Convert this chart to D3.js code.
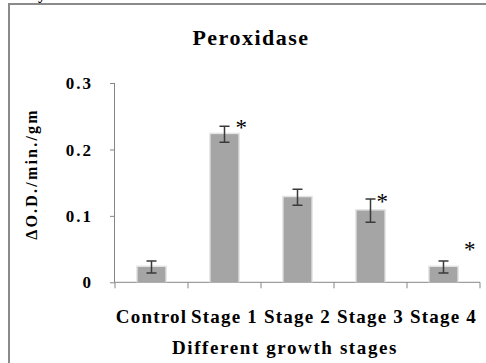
<!DOCTYPE html>
<html>
<head>
<meta charset="utf-8">
<script src="https://cdn.jsdelivr.net/npm/d3@7"></script>
<style>
  body { margin: 0; background: #fff; }
  svg { display: block; }
  text { font-family: "Liberation Serif", Tinos, "DejaVu Serif", serif; font-weight: bold; fill: #000; }
</style>
</head>
<body>
<svg id="chart" width="486" height="363"></svg>
<script>
// data
var categories = ["Control", "Stage 1", "Stage 2", "Stage 3", "Stage 4"];
var values = [0.023, 0.223, 0.128, 0.108, 0.023];
var errors = [0.009, 0.012, 0.012, 0.0175, 0.009];
var yTicks = [0, 0.1, 0.2, 0.3];
var yTickLabels = ["0", "0.1", "0.2", "0.3"];
// significance marks: level on the value axis and shift within the band (fraction of step)
var starLevel = [null, 0.240, null, 0.128, 0.056];
var starShift = [0, 0.23, 0, 0.16, 0.36];

var svg = d3.select("#chart");

var W = 486, H = 363,
    plotL = 115, plotR = 480, plotT = 83, plotB = 282.3;

var x = d3.scaleBand().domain(categories).range([plotL, plotR]).padding(0);
var y = d3.scaleLinear().domain([0, 0.3]).range([plotB, plotT]);
var barW = x.step() * 0.38;

// frame
svg.append("path")
  .attr("d", "M9," + H + "V4H" + W)
  .attr("fill", "none")
  .attr("stroke", "#8a8a8a")
  .attr("stroke-width", 2);

// clipped text from page above
svg.append("text")
  .attr("x", 38).attr("y", -1)
  .style("font-size", "16px")
  .text("y");

// title
svg.append("text")
  .attr("x", 251).attr("y", 45)
  .attr("text-anchor", "middle")
  .style("font-size", "22px")
  .style("letter-spacing", "1.5px")
  .text("Peroxidase");

// y axis
var yAxis = svg.append("g")
  .attr("transform", "translate(" + plotL + ",0)")
  .call(d3.axisLeft(y).tickValues(yTicks).tickSize(5).tickPadding(17)
    .tickFormat(function(d, i) { return yTickLabels[i]; }));
yAxis.select(".domain").attr("stroke", "#868686").attr("d", "M-0.5," + plotT + "V" + plotB);
yAxis.selectAll(".tick line").attr("stroke", "#868686");
yAxis.selectAll(".tick text")
  .style("font-size", "17px")
  .style("letter-spacing", "2px")
  .style("font-family", null)
  .attr("font-family", null)
  .attr("font-size", null)
  .attr("dy", "0.33em")
  .attr("fill", "#000");

// x axis line with ticks at band boundaries
var xAxis = svg.append("g");
xAxis.append("line")
  .attr("x1", plotL).attr("x2", plotR)
  .attr("y1", plotB).attr("y2", plotB)
  .attr("stroke", "#868686");
var bounds = categories.map(function(c) { return x(c); }).concat([plotR]);
xAxis.selectAll(".xt").data(bounds).join("line")
  .attr("class", "xt")
  .attr("x1", function(d) { return d; }).attr("x2", function(d) { return d; })
  .attr("y1", plotB).attr("y2", plotB + 6)
  .attr("stroke", "#868686");
xAxis.selectAll(".xl").data(categories).join("text")
  .attr("class", "xl")
  .attr("x", function(d) { return x(d) + x.bandwidth() / 2; })
  .attr("y", 323)
  .attr("text-anchor", "middle")
  .style("font-size", "19px")
  .style("letter-spacing", "1.2px")
  .text(function(d) { return d; });

// bars (soft halo behind, like the source)
var bars = svg.append("g");
bars.selectAll(".halo").data(values).join("rect")
  .attr("class", "halo")
  .attr("x", function(d, i) { return x(categories[i]) + (x.step() - barW) / 2 - 1.5; })
  .attr("y", function(d) { return y(d) - 1.5; })
  .attr("width", barW + 3)
  .attr("height", function(d) { return plotB - y(d) + 1.5; })
  .attr("fill", "#e4e4e4");
bars.selectAll(".bar").data(values).join("rect")
  .attr("class", "bar")
  .attr("x", function(d, i) { return x(categories[i]) + (x.step() - barW) / 2; })
  .attr("y", function(d) { return y(d); })
  .attr("width", barW)
  .attr("height", function(d) { return plotB - y(d); })
  .attr("fill", "#a5a5a5");

// error bars
var err = svg.append("g").attr("stroke", "#3a3a3a").attr("stroke-width", 1.5).attr("fill", "none");
err.selectAll("path").data(values).join("path")
  .attr("d", function(d, i) {
    var cx = x(categories[i]) + x.step() / 2,
        y1 = y(d + errors[i]), y2 = y(d - errors[i]), c = 5;
    return "M" + (cx - c) + "," + y1 + "H" + (cx + c) +
           "M" + cx + "," + y1 + "V" + y2 +
           "M" + (cx - c) + "," + y2 + "H" + (cx + c);
  });

// asterisks
svg.selectAll(".star").data(starLevel.map(function(s, i) { return {s: s, i: i}; })
    .filter(function(d) { return d.s !== null; }))
  .join("text")
  .attr("class", "star")
  .attr("x", function(d) { return x(categories[d.i]) + x.step() * (0.5 + starShift[d.i]); })
  .attr("y", function(d) { return y(d.s) + 12; })
  .attr("text-anchor", "middle")
  .style("font-size", "23px")
  .style("font-weight", "normal")
  .text("*");

// axis titles
svg.append("text")
  .attr("transform", "translate(37,174) rotate(-90)")
  .attr("text-anchor", "middle")
  .style("font-size", "16px")
  .style("letter-spacing", "2.2px")
  .text("\u0394O.D./min./gm");

svg.append("text")
  .attr("x", 285).attr("y", 354)
  .attr("text-anchor", "middle")
  .style("font-size", "19px")
  .style("letter-spacing", "1.6px")
  .text("Different growth stages");
</script>
</body>
</html>
